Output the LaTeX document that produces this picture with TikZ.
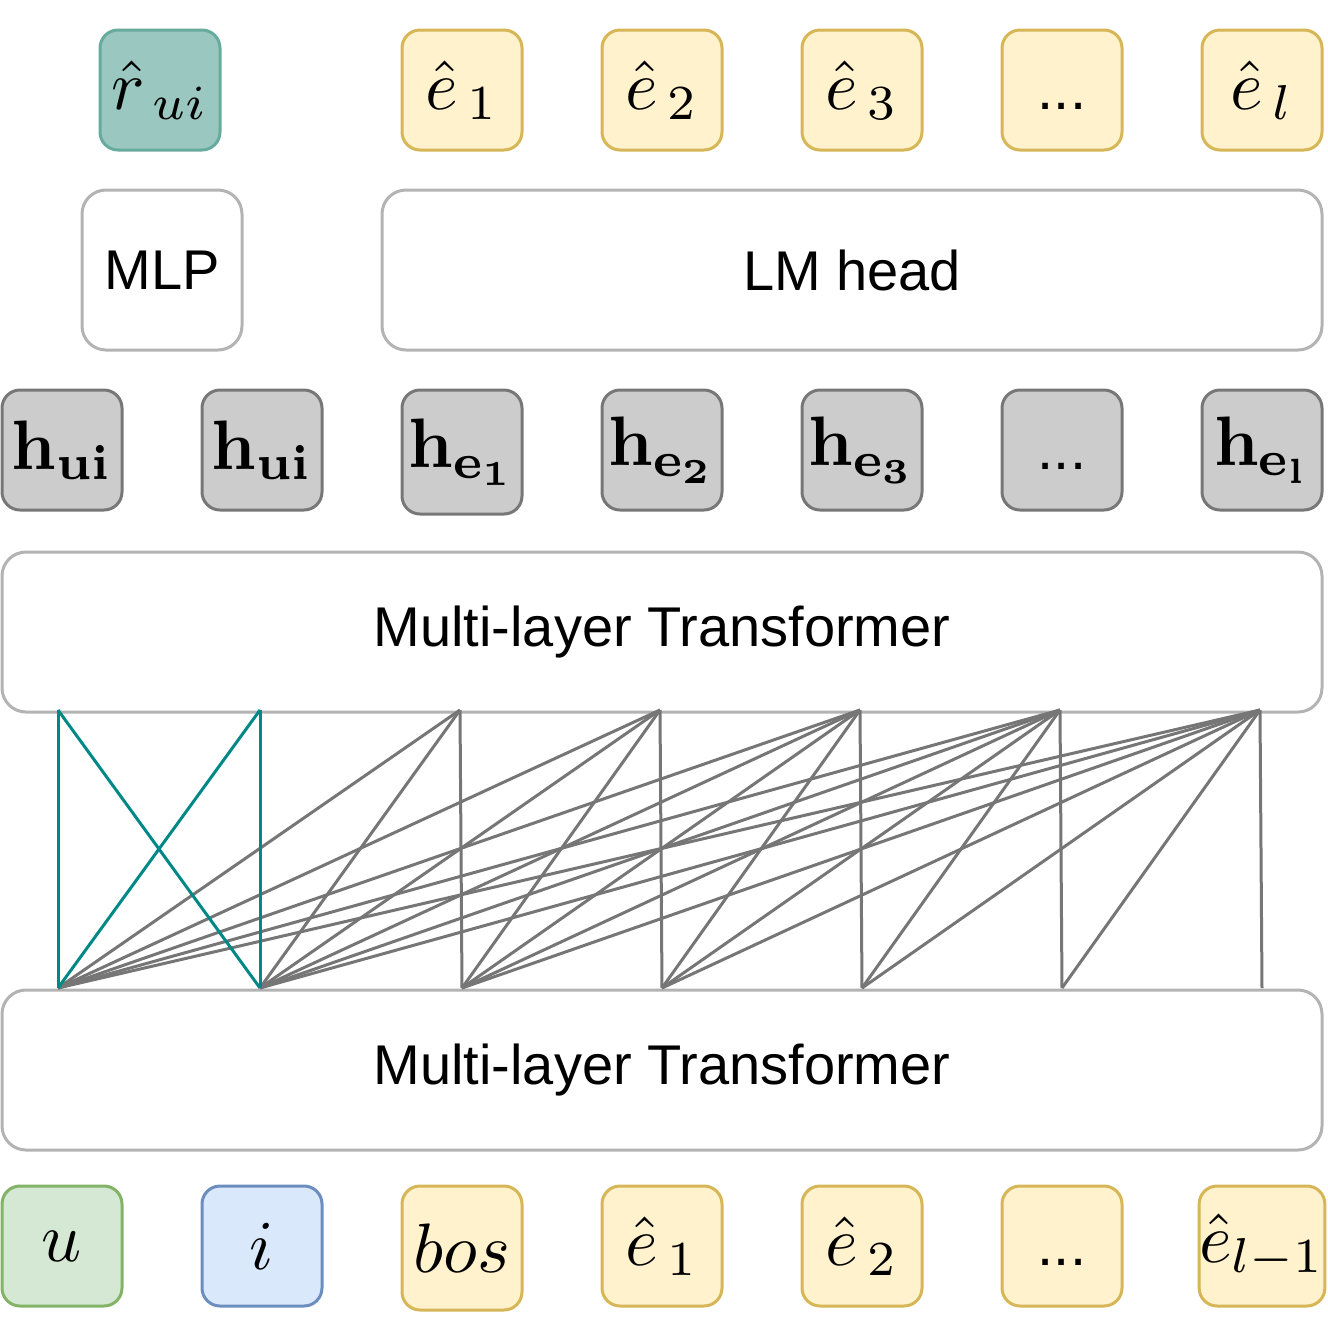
\documentclass[tikz,border=0pt]{standalone}
\usepackage{graphicx}
\usepackage[no-math]{fontspec}
\newfontfamily\arial{Liberation Sans}
\newcommand{\tokm}[1]{\scalebox{3.5}{$#1$}}
\definecolor{ttfill}{HTML}{9AC7BF}
\definecolor{ttdraw}{HTML}{67AB9F}
\definecolor{yfill}{HTML}{FFF2CC}
\definecolor{ydraw}{HTML}{D6B656}
\definecolor{gfill}{HTML}{D5E8D4}
\definecolor{gdraw}{HTML}{82B366}
\definecolor{bfill}{HTML}{DAE8FC}
\definecolor{bdraw}{HTML}{6C8EBF}
\definecolor{hfill}{HTML}{CCCCCC}
\definecolor{hdraw}{HTML}{777777}
\definecolor{boxgray}{HTML}{B3B3B3}
\definecolor{linegray}{HTML}{767676}
\definecolor{tealline}{HTML}{008888}
\begin{document}
\begin{tikzpicture}[x=0.5pt,y=-0.5pt,
  tok/.style={rounded corners=9pt, minimum width=60pt, minimum height=60pt,
    line width=1.5pt, inner sep=0pt},
  ytok/.style={tok, draw=ydraw, fill=yfill},
  htok/.style={tok, draw=hdraw, fill=hfill},
  big/.style={draw=boxgray, fill=white, rounded corners=12pt, line width=1.5pt,
    minimum height=80pt, inner sep=0pt, font=\arial\fontsize{28}{32}\selectfont},
  dotsfont/.style={font=\arial\fontsize{29}{32}\selectfont, text height=19pt, text depth=0pt},
  att/.style={draw=linegray, line width=1.5pt},
  attt/.style={draw=tealline, line width=1.5pt}]
\useasboundingbox (0,0) rectangle (1328,1340);

% top row
\node[tok, draw=ttdraw, fill=ttfill] (rhat) at (160,90) {\tokm{\hat{r}_{\mkern3mu ui}}};
\node[ytok] (oe1) at (462,90) {\tokm{\hat{e}_{\mkern3mu 1}}};
\node[ytok] (oe2) at (662,90) {\tokm{\hat{e}_{\mkern3mu 2}}};
\node[ytok] (oe3) at (862,90) {\tokm{\hat{e}_{\mkern3mu 3}}};
\node[ytok, dotsfont] (oed) at (1062,90) {{.}{.}{.}};
\node[ytok] (oel) at (1262,90) {\tokm{\hat{e}_{\mkern3mu l}}};

% heads
\node[big, minimum width=80pt] (mlp) at (162,270) {MLP};
\node[big, minimum width=470pt] (lm) at (852,270) {LM head};

% hidden states
\node[htok] (h1) at (62,450) {\tokm{\mathbf{h_{ui}}}};
\node[htok] (h2) at (262,450) {\tokm{\mathbf{h_{ui}}}};
\node[htok, minimum height=62pt] (h3) at (462,452) {\tokm{\mathbf{h_{e_1}}}};
\node[htok] (h4) at (662,450) {\tokm{\mathbf{h_{e_2}}}};
\node[htok] (h5) at (862,450) {\tokm{\mathbf{h_{e_3}}}};
\node[htok, dotsfont] (h6) at (1062,450) {{.}{.}{.}};
\node[htok] (h7) at (1262,450) {\tokm{\mathbf{h_{e_l}}}};

% transformers
\node[big, minimum width=660pt] (tup) at (662,632) {Multi-layer Transformer};
\node[big, minimum width=660pt, text height=20pt] (tlo) at (662,1070) {Multi-layer Transformer};

% input row
\node[tok, draw=gdraw, fill=gfill] (u) at (62,1246) {\tokm{u}};
\node[tok, draw=bdraw, fill=bfill] (i) at (262,1246) {\tokm{i}};
\node[ytok, minimum height=62pt] (bos) at (462,1248) {\tokm{bos}};
\node[ytok] (ie1) at (662,1246) {\tokm{\hat{e}_{\mkern3mu 1}}};
\node[ytok] (ie2) at (862,1246) {\tokm{\hat{e}_{\mkern3mu 2}}};
\node[ytok, dotsfont] (ied) at (1062,1246) {{.}{.}{.}};
\node[ytok] (iel) at (1262,1246) {\tokm{\hat{e}_{l-1}}};

% attention endpoints
\foreach \k/\xb/\xt in {0/58/58,1/260/260,2/462/460,3/662/660,4/862/860,5/1062/1060,6/1262/1260}{
  \coordinate (b\k) at (\xb,988);
  \coordinate (t\k) at (\xt,710);
}
\foreach \k in {2,...,6}{
  \foreach \j in {0,...,\k}{
    \draw[att] (b\j) -- (t\k);
  }
}
\draw[attt] (b0) -- (t0);
\draw[attt] (b0) -- (t1);
\draw[attt] (b1) -- (t0);
\draw[attt] (b1) -- (t1);
\end{tikzpicture}
\end{document}
